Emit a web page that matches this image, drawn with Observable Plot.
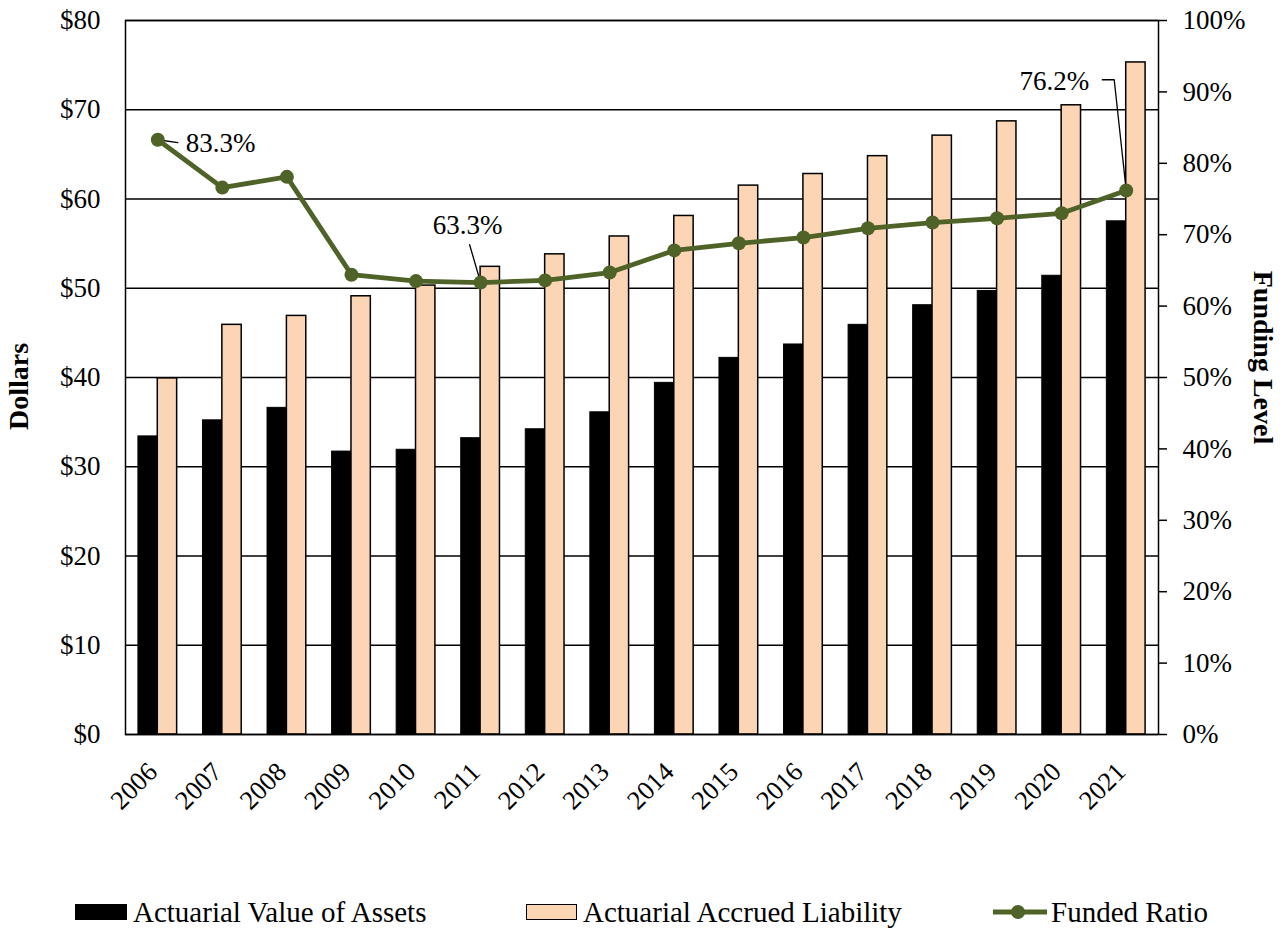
<!DOCTYPE html>
<html>
<head>
<meta charset="utf-8">
<script src="https://cdn.jsdelivr.net/npm/d3@7"></script>
<script src="https://cdn.jsdelivr.net/npm/@observablehq/plot@0.6"></script>
<style>
  body { margin: 0; background: #fff; font-family: "Liberation Serif", "Times New Roman", serif; }
  #chart svg { display: block; }
  .legend { position: relative; height: 60px; font-size: 29px; color: #000; }
  .legend .item { position: absolute; top: 27px; height: 30px; line-height: 30px; white-space: nowrap; }
  .legend .sw { position: absolute; top: 0; }
</style>
</head>
<body>
<div id="chart"></div>
<div class="legend" id="legend"></div>
<script>
// ---- data ----
const years = [2006, 2007, 2008, 2009, 2010, 2011, 2012, 2013, 2014, 2015, 2016, 2017, 2018, 2019, 2020, 2021];
const assets = [33.4, 35.2, 36.6, 31.7, 31.9, 33.2, 34.2, 36.1, 39.4, 42.2, 43.7, 45.9, 48.1, 49.7, 51.4, 57.5];
const liabilities = [39.9, 45.9, 46.9, 49.1, 50.3, 52.4, 53.8, 55.8, 58.1, 61.5, 62.8, 64.8, 67.1, 68.7, 70.5, 75.3];
const fundedRatio = [83.3, 76.6, 78.1, 64.4, 63.5, 63.3, 63.6, 64.7, 67.8, 68.8, 69.6, 70.9, 71.7, 72.3, 73.0, 76.2];
const dollarTicks = [0, 10, 20, 30, 40, 50, 60, 70, 80];
const pctTicks = [0, 10, 20, 30, 40, 50, 60, 70, 80, 90, 100];
const seriesNames = ["Actuarial Value of Assets", "Actuarial Accrued Liability", "Funded Ratio"];
const labelYears = [2006, 2011, 2021];

const PCT = 0.8; // 100% on right axis = $80 on left axis
const data = years.map((year, i) => ({year, assets: assets[i], liability: liabilities[i], ratio: fundedRatio[i]}));
const ratioOf = y => fundedRatio[years.indexOf(y)];

// leader lines for annotations: offsets (years, percentage points) from the point
const leaders = [
  {year: 2006, path: [[0, 0], [0.31, -0.4]]},
  {year: 2011, path: [[0, 0], [-0.17, 5.3]]},
  {year: 2021, path: [[0, 0], [-0.186, 15.5], [-0.37, 15.5]]}
];
const leaderPts = leaders.flatMap((l, k) => l.path.map(([dy, dp]) => ({k, year: l.year + dy, pct: ratioOf(l.year) + dp})));
const labelStyle = [
  {textAnchor: "start", dx: 28, dy: 4},
  {textAnchor: "middle", dx: -13, dy: -57},
  {textAnchor: "end", dx: -37, dy: -109}
];

const GREEN = "#4F6228";
const PEACH = "#FCD5B4";

const plot = Plot.plot({
  width: 1286,
  height: 870,
  marginLeft: 125,
  marginRight: 128,
  marginTop: 20,
  marginBottom: 136,
  style: {fontFamily: "'Liberation Serif', 'Times New Roman', serif", color: "#000", background: "#fff", overflow: "visible"},
  x: {type: "linear", domain: [2005.5, 2021.5], axis: null},
  y: {domain: [0, 80], axis: null},
  marks: [
    Plot.gridY(dollarTicks, {stroke: "#000", strokeOpacity: 1, strokeWidth: 1.4}),
    Plot.rect(data, {x1: d => d.year - 0.3, x2: d => d.year, y1: 0, y2: "assets", fill: "#000", stroke: "#000", strokeWidth: 1}),
    Plot.rect(data, {x1: d => d.year, x2: d => d.year + 0.3, y1: 0, y2: "liability", fill: PEACH, stroke: "#000", strokeWidth: 1.5}),
    Plot.frame({stroke: "#000", strokeWidth: 1.5}),
    Plot.axisY(dollarTicks, {anchor: "left", tickSize: 0, tickPadding: 25, tickFormat: d => "$" + d, fontSize: 27, label: null}),
    Plot.axisY(pctTicks.map(p => p * PCT), {anchor: "right", tickSize: 8, tickPadding: 16, strokeWidth: 1.5, tickFormat: d => Math.round(d / PCT) + "%", fontSize: 27, label: null}),
    Plot.text(years, {x: d => d, text: d => String(d), frameAnchor: "bottom", rotate: -45, textAnchor: "end", lineAnchor: "middle", dx: -5, dy: 33, fontSize: 26.5}),
    Plot.line(leaderPts, {x: "year", y: d => d.pct * PCT, z: "k", stroke: "#000", strokeWidth: 1.3}),
    Plot.line(data, {x: "year", y: d => d.ratio * PCT, stroke: GREEN, strokeWidth: 4.8}),
    Plot.dot(data, {x: "year", y: d => d.ratio * PCT, r: 7, fill: GREEN, stroke: "none"}),
    ...labelYears.map((yr, k) => Plot.text([yr], {
      x: d => d, y: d => ratioOf(d) * PCT, text: d => ratioOf(d).toFixed(1) + "%",
      fontSize: 27, lineAnchor: "middle", ...labelStyle[k]
    })),
    Plot.text(["Dollars"], {frameAnchor: "left", rotate: -90, textAnchor: "middle", dx: -106, dy: 9, fontSize: 28, fontWeight: "bold"}),
    Plot.text(["Funding Level"], {frameAnchor: "right", rotate: 90, textAnchor: "middle", dx: 104, dy: -20, fontSize: 28, fontWeight: "bold"})
  ]
});
document.getElementById("chart").appendChild(plot);

// ---- legend ----
const legend = document.getElementById("legend");
const items = [
  {left: 75, sw: `<div class="sw" style="left:0;top:7px;width:52px;height:16px;background:#000;box-sizing:border-box;border:1px solid #000"></div>`, textLeft: 58},
  {left: 526, sw: `<div class="sw" style="left:0;top:7px;width:51px;height:16px;background:${PEACH};box-sizing:border-box;border:1.5px solid #000"></div>`, textLeft: 57},
  {left: 992, sw: `<svg class="sw" width="56" height="30" style="left:0;top:0"><line x1="1" y1="15" x2="55" y2="15" stroke="${GREEN}" stroke-width="4.8"/><circle cx="26" cy="15" r="7" fill="${GREEN}"/></svg>`, textLeft: 59}
];
items.forEach((it, i) => {
  const div = document.createElement("div");
  div.className = "item";
  div.style.left = it.left + "px";
  div.innerHTML = it.sw + `<span style="position:absolute;left:${it.textLeft}px;top:0">${seriesNames[i]}</span>`;
  legend.appendChild(div);
});
</script>
</body>
</html>
